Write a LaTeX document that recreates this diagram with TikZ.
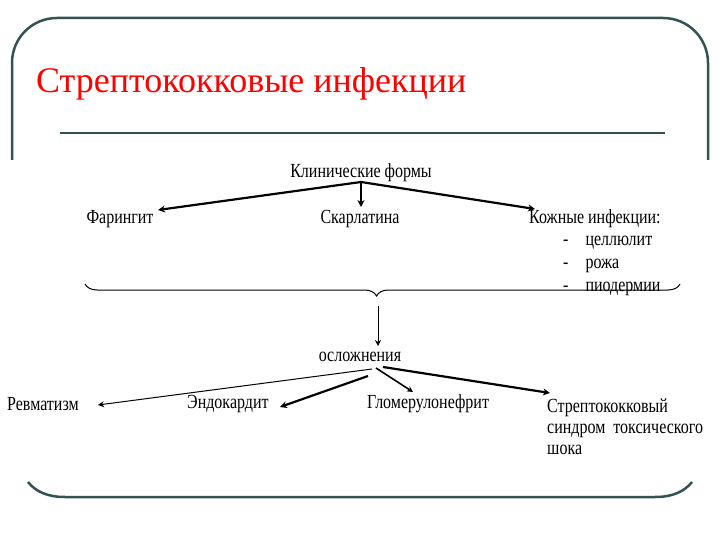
\documentclass[tikz,border=0pt]{standalone}
\usepackage{fontspec}
\setmainfont{Liberation Serif}
\newfontfamily\narrow[FakeStretch=0.8]{Liberation Serif}
\usetikzlibrary{decorations.pathreplacing,arrows.meta}
\begin{document}
\begin{tikzpicture}[x=1pt,y=-1pt,
  lbl/.style={font=\narrow\fontsize{20}{20}\selectfont,inner sep=1pt},
  thk/.style={line width=2.2pt,-{Stealth[length=7pt,width=7pt]}},
  thn/.style={line width=1pt,-{Stealth[length=6pt,width=6pt]}},
  frame/.style={draw=black!60!teal!60!gray,line width=2.5pt}]
\useasboundingbox (0,0) rectangle (720,540);
\fill[white] (0,0) rectangle (720,540);
\draw[frame] (12,160) -- (12,63) .. controls (12,38) and (32,18) .. (57,18) -- (663,18) .. controls (688,18) and (708,38) .. (708,63) -- (708,160);
\draw[frame] (28,482) .. controls (36,492) and (48,497) .. (65,497) -- (655,497) .. controls (672,497) and (684,492) .. (692,482);
\node[text=red,font=\fontsize{36}{36}\selectfont,anchor=west,inner sep=0] (title) at (36,84) {Стрептококковые инфекции};
\draw[line width=2pt,black!60!teal!60!gray] (60,133) -- (665,133);
\node[lbl] (kf) at (361,173) {Клинические формы};
\node[lbl] (far) at (120,219) {Фарингит};
\node[lbl] (sk) at (360,219) {Скарлатина};
\node[lbl,anchor=west] (kozh) at (528,219) {Кожные инфекции:};
\node[lbl,anchor=west] (i1) at (562,243) {-\hspace{17pt}целлюлит};
\node[lbl,anchor=west] (i2) at (562,266) {-\hspace{17pt}рожа};
\node[lbl,anchor=west] (i3) at (562,289) {-\hspace{17pt}пиодермии};
\coordinate (ks) at (361,182);
\draw[thk] (ks) -- (158,210);
\draw[thk] (ks) -- (361,207);
\draw[thk] (ks) -- (535,209);
\draw[line width=1pt,decorate,decoration={brace,amplitude=12pt,mirror,aspect=0.49}] (85,284) -- (680,284);
\coordinate (tip) at (378,306);
\node[lbl] (osl) at (360,357) {осложнения};
\draw[thn] (tip) -- (378,346);
\node[lbl,anchor=west] (rev) at (6,404) {Ревматизм};
\node[lbl,anchor=west] (endo) at (186,404) {Эндокардит};
\node[lbl,anchor=west] (glom) at (366,404) {Гломерулонефрит};
\node[lbl,anchor=west,align=left] (str) at (546,427) {Стрептококковый\\[1pt]синдром\hspace{8pt}токсического\\[1pt]шока};
\draw[thn] (372,369) -- (98,405);
\draw[thk] (368,376) -- (280,407);
\draw[thn,line width=1.6pt] (376,368) -- (413,392);
\draw[thk] (383,367) -- (550,393);
\end{tikzpicture}
\end{document}
